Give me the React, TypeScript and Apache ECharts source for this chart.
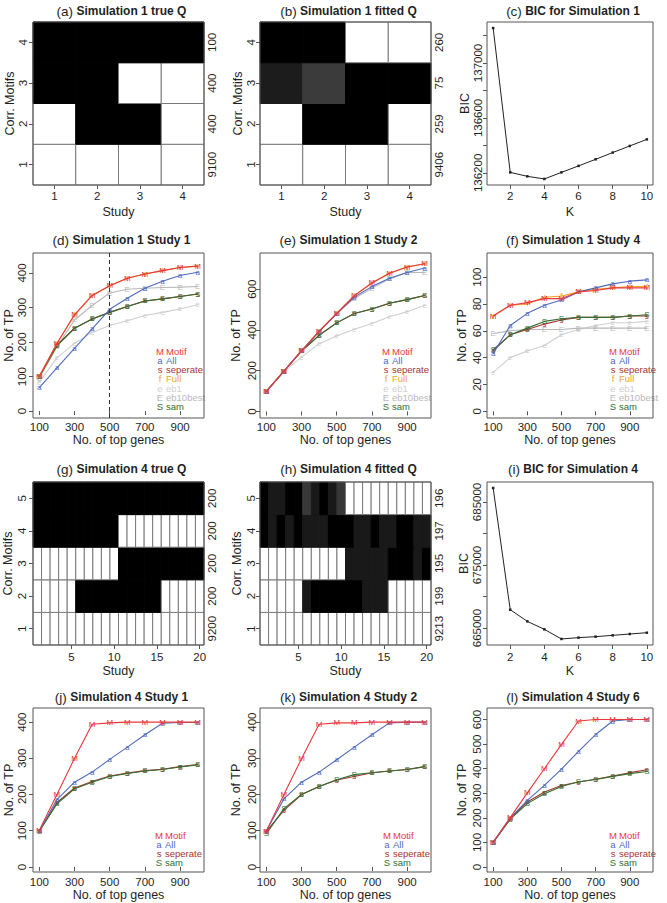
import React, { useEffect, useRef } from "react";
import * as echarts from "echarts";

// ---------------- data ----------------
const sim1Studies = ["1", "2", "3", "4"];
const sim1Motifs = ["1", "2", "3", "4"];
// rows: motif 1 (bottom) .. motif 4 (top); columns: study 1..4; 1 = black
const sim1TrueQ = [
  [0, 0, 0, 0],
  [0, 1, 1, 0],
  [1, 1, 0, 0],
  [1, 1, 1, 1],
];
const sim1TrueCounts = ["9100", "400", "400", "100"];
const sim1FittedQ = [
  [0, 0, 0, 0],
  [0, 1, 1, 0],
  [0.89, 0.77, 1, 1],
  [1, 1, 0, 0],
];
const sim1FittedCounts = ["9406", "259", "75", "260"];

const sim4Studies = ["1", "2", "3", "4", "5", "6", "7", "8", "9", "10", "11", "12", "13", "14", "15", "16", "17", "18", "19", "20"];
const sim4Motifs = ["1", "2", "3", "4", "5"];
const sim4TrueQ = [
  [0, 0, 0, 0, 0, 0, 0, 0, 0, 0, 0, 0, 0, 0, 0, 0, 0, 0, 0, 0],
  [0, 0, 0, 0, 0, 1, 1, 1, 1, 1, 1, 1, 1, 1, 1, 0, 0, 0, 0, 0],
  [0, 0, 0, 0, 0, 0, 0, 0, 0, 0, 1, 1, 1, 1, 1, 1, 1, 1, 1, 1],
  [1, 1, 1, 1, 1, 1, 1, 1, 1, 1, 0, 0, 0, 0, 0, 0, 0, 0, 0, 0],
  [1, 1, 1, 1, 1, 1, 1, 1, 1, 1, 1, 1, 1, 1, 1, 1, 1, 1, 1, 1],
];
const sim4TrueCounts = ["9200", "200", "200", "200", "200"];
const sim4FittedQ = [
  [0, 0, 0, 0, 0, 0, 0, 0, 0, 0, 0, 0, 0, 0, 0, 0, 0, 0, 0, 0],
  [0, 0, 0, 0, 0, 0.9, 1, 1, 1, 1, 1, 1, 0.9, 0.9, 0.9, 0, 0, 0, 0, 0],
  [0, 0, 0, 0, 0, 0, 0, 0, 0, 0, 0.9, 0.9, 0.9, 0.9, 0.9, 1, 1, 1, 0.9, 1],
  [1, 0.9, 1, 0.9, 1, 0.9, 0.9, 0.9, 1, 1, 1, 0.9, 0.9, 1, 0.9, 0.9, 1, 1, 0.9, 0.9],
  [1, 0.9, 0.9, 1, 1, 0.78, 0.9, 1, 0.9, 0.78, 0, 0, 0, 0, 0, 0, 0, 0, 0, 0],
];
const sim4FittedCounts = ["9213", "199", "195", "197", "196"];

const kValues = [1, 2, 3, 4, 5, 6, 7, 8, 9, 10];
const kTicks = [2, 4, 6, 8, 10];
const bicSim1 = [137254, 136204, 136175, 136156, 136204, 136251, 136299, 136348, 136396, 136444];
const bicSim1Ticks = [136200, 136400, 136600, 136800, 137000, 137200];
const bicSim1Labels = [136200, 136600, 137000];
const bicSim4 = [687210, 667905, 666060, 664790, 663265, 663475, 663630, 663840, 664050, 664260];
const bicSim4Ticks = [665000, 670000, 675000, 680000, 685000];
const bicSim4Labels = [665000, 675000, 685000];

const topGenes = [100, 200, 300, 400, 500, 600, 700, 800, 900, 1000];
const topGeneTicks = [100, 300, 500, 700, 900];
const cutoffGenes = 500;

const methodNames = ["Motif", "All", "seperate", "Full", "eb1", "eb10best", "sam"];
const methodLetters = ["M", "a", "s", "f", "e", "E", "S"];
const methodColors = ["#E8383D", "#4F6BBF", "#A83232", "#F4A21C", "#CFCFCF", "#B8B8B8", "#2F6F2F"];

// Simulation 1 Study 1
const s1st1Motif = [101, 196, 279, 335, 363, 385, 397, 407, 416, 420];
const s1st1All = [68, 125, 182, 238, 295, 327, 356, 376, 393, 402];
const s1st1Sep = [100, 190, 240, 267, 286, 303, 319, 325, 332, 339];
const s1st1Full = [101, 196, 279, 335, 363, 385, 397, 407, 416, 420];
const s1st1Eb1 = [84, 154, 196, 228, 248, 262, 277, 286, 296, 308];
const s1st1Eb10 = [95, 186, 264, 306, 342, 353, 356, 358, 359, 361];
const s1st1Sam = [100, 190, 240, 267, 286, 303, 319, 325, 332, 339];
const s1st1Ticks = [0, 100, 200, 300, 400];

// Simulation 1 Study 2
const s1st2Motif = [99, 198, 298, 394, 481, 569, 631, 679, 709, 725];
const s1st2All = [99, 198, 298, 392, 480, 562, 613, 654, 682, 704];
const s1st2Sep = [99, 198, 297, 374, 435, 481, 503, 531, 549, 569];
const s1st2Full = [99, 198, 298, 394, 481, 569, 631, 679, 709, 725];
const s1st2Eb1 = [99, 195, 267, 333, 371, 404, 432, 465, 490, 522];
const s1st2Eb10 = [99, 198, 297, 392, 480, 555, 605, 651, 682, 682];
const s1st2Sam = [99, 198, 297, 374, 435, 481, 503, 531, 549, 569];
const s1st2Ticks = [0, 200, 400, 600];

// Simulation 1 Study 4
const s1st4Motif = [71, 79, 81, 84, 84, 89, 90, 92, 92, 92];
const s1st4All = [43, 64, 73, 79, 83, 89, 92, 95, 97, 98];
const s1st4Sep = [45, 57, 61, 65, 68, 70, 70, 70, 71, 71];
const s1st4Full = [71, 79, 80, 85, 86, 89, 91, 92, 93, 93];
const s1st4Eb1 = [29, 40, 45, 49, 57, 61, 64, 66, 66, 67];
const s1st4Eb10 = [58, 60, 61, 61, 61, 62, 62, 62, 62, 62];
const s1st4Sam = [46, 57, 62, 67, 69, 70, 70, 70, 71, 72];
const s1st4Ticks = [0, 20, 40, 60, 80, 100];

// Simulation 4 Study 1
const s4st1Motif = [101, 200, 300, 394, 398, 400, 400, 400, 400, 400];
const s4st1All = [100, 186, 234, 262, 297, 331, 365, 397, 399, 399];
const s4st1Sep = [100, 178, 218, 236, 251, 259, 266, 270, 277, 283];
const s4st1Sam = [99, 174, 216, 234, 250, 258, 265, 269, 276, 282];
const s4st1Ticks = [0, 100, 200, 300, 400];

// Simulation 4 Study 2
const s4st2Motif = [99, 200, 299, 394, 398, 398, 400, 400, 400, 400];
const s4st2All = [100, 188, 234, 262, 296, 331, 365, 398, 400, 400];
const s4st2Sep = [98, 156, 200, 222, 240, 250, 260, 265, 269, 277];
const s4st2Sam = [92, 161, 200, 222, 241, 255, 260, 265, 269, 277];
const s4st2Ticks = [0, 100, 200, 300, 400];

// Simulation 4 Study 6
const s4st6Motif = [102, 201, 302, 400, 499, 594, 600, 600, 600, 600];
const s4st6All = [100, 200, 271, 332, 398, 471, 539, 594, 600, 600];
const s4st6Sep = [100, 197, 265, 305, 332, 346, 357, 370, 384, 396];
const s4st6Sam = [100, 195, 258, 298, 328, 347, 356, 369, 380, 389];
const s4st6Ticks = [0, 100, 200, 300, 400, 500, 600];

// ---------------- styling / layout ----------------
const FONT = "'Liberation Sans', Arial, Helvetica, sans-serif";
const INK = "#1f1f1f";
const FRAME = "#555555";
const COL_L = [33, 260, 487];
const COL_W = [171, 171, 166];
const ROW_T = [22, 253, 482, 708];
const ROW_H = [163, 165, 163, 164];
const TITLE_Y = [11, 240, 469, 697];
const LEG_Y2 = 351;
const LEG_Y4 = 835;
const LEG_STEP = 9.3;
const TICK_FS = 11.5;
const NAME_FS = 12.5;

const shade = (v: number) => {
  const g = Math.round(255 * (1 - v));
  return `rgb(${g},${g},${g})`;
};
const plain = (v: number) => String(v);

function buildOption() {
  const grid: any[] = [];
  const xAxis: any[] = [];
  const yAxis: any[] = [];
  const series: any[] = [];
  const graphic: any[] = [];

  const txt = (size: number) => ({ fontSize: size, color: INK, fontFamily: FONT });
  const tick = { show: true, length: 4, lineStyle: { color: FRAME, width: 1 } };

  const box = (r: number, c: number) => ({ left: COL_L[c], top: ROW_T[r], width: COL_W[c], height: ROW_H[r] });

  const addGrid = (b: any) => {
    grid.push({ ...b, show: true, z: 5, backgroundColor: "transparent", borderColor: FRAME, borderWidth: 1, containLabel: false, outerBoundsMode: "none" });
    return grid.length - 1;
  };

  const addTitle = (r: number, c: number, tag: string, title: string) => {
    graphic.push({
      type: "text",
      x: COL_L[c] + COL_W[c] / 2 + 3,
      y: TITLE_Y[r],
      silent: true,
      style: {
        text: `{p|${tag}} {b|${title}}`,
        align: "center",
        verticalAlign: "middle",
        rich: {
          p: { fontSize: 13.5, fontFamily: FONT, fill: INK },
          b: { fontSize: 12, fontWeight: "bold", fontFamily: FONT, fill: INK },
        },
      },
    });
  };

  const addHeat = (r: number, c: number, p: any) => {
    const gi = addGrid(box(r, c));
    const every = p.every;
    const showIdx = (i: number) => (i + 1) % every === 0;
    xAxis.push({
      gridIndex: gi, type: "category", data: p.studies, boundaryGap: true,
      axisLine: { show: false }, splitLine: { show: false },
      axisTick: { ...tick, alignWithLabel: true, interval: (i: number) => showIdx(i) },
      axisLabel: { ...txt(TICK_FS), margin: p.xm, interval: (i: number) => showIdx(i) },
      name: "Study", nameLocation: "middle", nameGap: p.xg, nameTextStyle: txt(NAME_FS),
    });
    const yi = yAxis.length;
    yAxis.push({
      gridIndex: gi, type: "category", data: p.motifs, boundaryGap: true,
      axisLine: { show: false }, splitLine: { show: false },
      axisTick: { ...tick, alignWithLabel: true, interval: 0 },
      axisLabel: { ...txt(TICK_FS), rotate: 90, margin: p.ym, interval: 0 },
      name: "Corr. Motifs", nameLocation: "middle", nameGap: p.yg, nameTextStyle: txt(NAME_FS),
    });
    yAxis.push({
      gridIndex: gi, type: "category", data: p.counts, position: "right", boundaryGap: true,
      axisLine: { show: false }, splitLine: { show: false }, axisTick: { show: false },
      axisLabel: { ...txt(TICK_FS), rotate: 90, margin: 2, interval: 0, hideOverlap: false },
    });
    const data: any[] = [];
    p.q.forEach((row: number[], ri: number) =>
      row.forEach((v: number, ci: number) => data.push([ci, ri, v]))
    );
    series.push({
      type: "custom", xAxisIndex: gi, yAxisIndex: yi, data, silent: true,
      encode: { x: 0, y: 1 },
      renderItem: (_params: any, api: any) => {
        const ctr = api.coord([api.value(0), api.value(1)]);
        const sz = api.size([1, 1]);
        const v = api.value(2);
        return {
          type: "rect",
          shape: { x: ctr[0] - sz[0] / 2, y: ctr[1] - sz[1] / 2, width: sz[0], height: sz[1] },
          style: { fill: shade(v), stroke: v > 0.5 ? shade(v) : "#7a7a7a", lineWidth: 1 },
        };
      },
    });
  };

  const addBic = (r: number, c: number, p: any) => {
    const gi = addGrid(box(r, c));
    xAxis.push({
      gridIndex: gi, type: "value", min: 0.64, max: 10.36,
      axisLine: { show: false }, splitLine: { show: false },
      axisTick: { ...tick, customValues: kTicks },
      axisLabel: { ...txt(TICK_FS), margin: p.xm, customValues: kTicks, formatter: plain },
      name: "K", nameLocation: "middle", nameGap: p.xg, nameTextStyle: txt(NAME_FS),
    });
    const yi = yAxis.length;
    yAxis.push({
      gridIndex: gi, type: "value", min: p.min, max: p.max,
      axisLine: { show: false }, splitLine: { show: false },
      axisTick: { ...tick, customValues: p.ticks },
      axisLabel: { ...txt(TICK_FS), rotate: 90, margin: p.ym, customValues: p.labels, formatter: plain },
      name: "BIC", nameLocation: "middle", nameGap: p.yg, nameTextStyle: txt(NAME_FS),
    });
    series.push({
      type: "line", xAxisIndex: gi, yAxisIndex: yi, silent: true,
      data: kValues.map((k, i) => [k, p.values[i]]),
      symbol: "rect", symbolSize: 2.5, showSymbol: true,
      lineStyle: { color: "#222", width: 1 }, itemStyle: { color: "#222" },
      emphasis: { disabled: true },
    });
  };

  const addLines = (r: number, c: number, p: any) => {
    const gi = addGrid(box(r, c));
    xAxis.push({
      gridIndex: gi, type: "value", min: 64, max: 1036,
      axisLine: { show: false }, splitLine: { show: false },
      axisTick: { ...tick, customValues: topGeneTicks },
      axisLabel: { ...txt(TICK_FS), margin: p.xm, customValues: topGeneTicks, formatter: plain },
      name: "No. of top genes", nameLocation: "middle", nameGap: p.xg, nameTextStyle: txt(NAME_FS),
    });
    const yi = yAxis.length;
    yAxis.push({
      gridIndex: gi, type: "value", min: p.min, max: p.max,
      axisLine: { show: false }, splitLine: { show: false },
      axisTick: { ...tick, customValues: p.ticks },
      axisLabel: { ...txt(TICK_FS), rotate: 90, margin: p.ym, customValues: p.ticks, formatter: plain },
      name: "No. of TP", nameLocation: "middle", nameGap: p.yg, nameTextStyle: txt(NAME_FS),
    });
    const order = [4, 5, 2, 6, 3, 1, 0];
    order.forEach((m, oi) => {
      const vals = p.values[m];
      if (!vals) return;
      series.push({
        type: "line", name: methodNames[m], xAxisIndex: gi, yAxisIndex: yi, silent: true,
        data: topGenes.map((g, i) => [g, vals[i]]),
        symbol: "circle", symbolSize: 1, showSymbol: true,
        lineStyle: { color: methodColors[m], width: 1.1 }, itemStyle: { color: methodColors[m] },
        label: { show: true, position: "inside", formatter: methodLetters[m], color: methodColors[m], fontSize: 8, fontFamily: FONT },
        emphasis: { disabled: true }, z: 2 + oi * 0.1,
      });
    });
    if (p.cutoff) {
      series.push({
        type: "line", xAxisIndex: gi, yAxisIndex: yi, data: [], silent: true,
        markLine: {
          silent: true, symbol: ["none", "none"], label: { show: false },
          lineStyle: { type: [4, 3], color: "#333", width: 1 },
          data: [{ xAxis: p.cutoff }],
        },
      });
    }
    // legend
    const legY = r === 1 ? LEG_Y2 : LEG_Y4;
    const lx = COL_L[c] + p.legDx;
    let row = 0;
    for (let m = 0; m < methodNames.length; m++) {
      if (!p.values[m]) continue;
      const y = legY + row * LEG_STEP;
      graphic.push({
        type: "text", x: lx, y, silent: true,
        style: { text: methodLetters[m], align: "center", verticalAlign: "middle", fontSize: 9.5, fontFamily: FONT, fill: methodColors[m] },
      });
      graphic.push({
        type: "text", x: lx + 6, y, silent: true,
        style: { text: methodNames[m], align: "left", verticalAlign: "middle", fontSize: 9.5, fontFamily: FONT, fill: methodColors[m] },
      });
      row++;
    }
  };

  // Row 1
  addHeat(0, 0, { studies: sim1Studies, motifs: sim1Motifs, q: sim1TrueQ, counts: sim1TrueCounts, every: 1, xm: 5, xg: 20, ym: 4, yg: 16 });
  addTitle(0, 0, "(a)", "Simulation 1 true Q");
  addHeat(0, 1, { studies: sim1Studies, motifs: sim1Motifs, q: sim1FittedQ, counts: sim1FittedCounts, every: 1, xm: 5, xg: 20, ym: 3, yg: 15 });
  addTitle(0, 1, "(b)", "Simulation 1 fitted Q");
  addBic(0, 2, { values: bicSim1, min: 136112, max: 137298, ticks: bicSim1Ticks, labels: bicSim1Labels, xm: 5, xg: 20, ym: 3, yg: 16 });
  addTitle(0, 2, "(c)", "BIC for Simulation 1");

  // Row 2
  addLines(1, 0, {
    values: [s1st1Motif, s1st1All, s1st1Sep, s1st1Full, s1st1Eb1, s1st1Eb10, s1st1Sam],
    min: -20, max: 458, ticks: s1st1Ticks, cutoff: cutoffGenes, xm: 3, xg: 12, ym: 5, yg: 16, legDx: 127,
  });
  addTitle(1, 0, "(d)", "Simulation 1 Study 1");
  addLines(1, 1, {
    values: [s1st2Motif, s1st2All, s1st2Sep, s1st2Full, s1st2Eb1, s1st2Eb10, s1st2Sam],
    min: -32, max: 778, ticks: s1st2Ticks, xm: 3, xg: 12, ym: 2, yg: 18, legDx: 126,
  });
  addTitle(1, 1, "(e)", "Simulation 1 Study 2");
  addLines(1, 2, {
    values: [s1st4Motif, s1st4All, s1st4Sep, s1st4Full, s1st4Eb1, s1st4Eb10, s1st4Sam],
    min: -5, max: 118, ticks: s1st4Ticks, xm: 3, xg: 12, ym: 4, yg: 19, legDx: 126,
  });
  addTitle(1, 2, "(f)", "Simulation 1 Study 4");

  // Row 3
  addHeat(2, 0, { studies: sim4Studies, motifs: sim4Motifs, q: sim4TrueQ, counts: sim4TrueCounts, every: 5, xm: 6, xg: 19, ym: 5, yg: 19 });
  addTitle(2, 0, "(g)", "Simulation 4 true Q");
  addHeat(2, 1, { studies: sim4Studies, motifs: sim4Motifs, q: sim4FittedQ, counts: sim4FittedCounts, every: 5, xm: 6, xg: 19, ym: 3, yg: 17 });
  addTitle(2, 1, "(h)", "Simulation 4 fitted Q");
  addBic(2, 2, { values: bicSim4, min: 662307, max: 688168, ticks: bicSim4Ticks, labels: bicSim4Labels, xm: 6, xg: 19, ym: 4, yg: 17 });
  addTitle(2, 2, "(i)", "BIC for Simulation 4");

  // Row 4
  addLines(3, 0, {
    values: [s4st1Motif, s4st1All, s4st1Sep, null, null, null, s4st1Sam],
    min: -14, max: 439, ticks: s4st1Ticks, xm: 4, xg: 16, ym: 5, yg: 16, legDx: 126,
  });
  addTitle(3, 0, "(j)", "Simulation 4 Study 1");
  addLines(3, 1, {
    values: [s4st2Motif, s4st2All, s4st2Sep, null, null, null, s4st2Sam],
    min: -14, max: 439, ticks: s4st2Ticks, xm: 4, xg: 16, ym: 2, yg: 18, legDx: 127,
  });
  addTitle(3, 1, "(k)", "Simulation 4 Study 2");
  addLines(3, 2, {
    values: [s4st6Motif, s4st6All, s4st6Sep, null, null, null, s4st6Sam],
    min: -20, max: 647, ticks: s4st6Ticks, xm: 4, xg: 16, ym: 4, yg: 19, legDx: 126,
  });
  addTitle(3, 2, "(l)", "Simulation 4 Study 6");

  return { animation: false, backgroundColor: "#ffffff", grid, xAxis, yAxis, series, graphic };
}

export default function App() {
  const ref = useRef<HTMLDivElement>(null);
  useEffect(() => {
    if (!ref.current) return;
    const chart = echarts.init(ref.current, undefined, { renderer: "svg" });
    chart.setOption(buildOption() as any);
    return () => chart.dispose();
  }, []);
  return (
    <div
      ref={ref}
      style={{ position: "absolute", left: 0, top: 0, width: 667, height: 903, background: "#fff" }}
    />
  );
}
